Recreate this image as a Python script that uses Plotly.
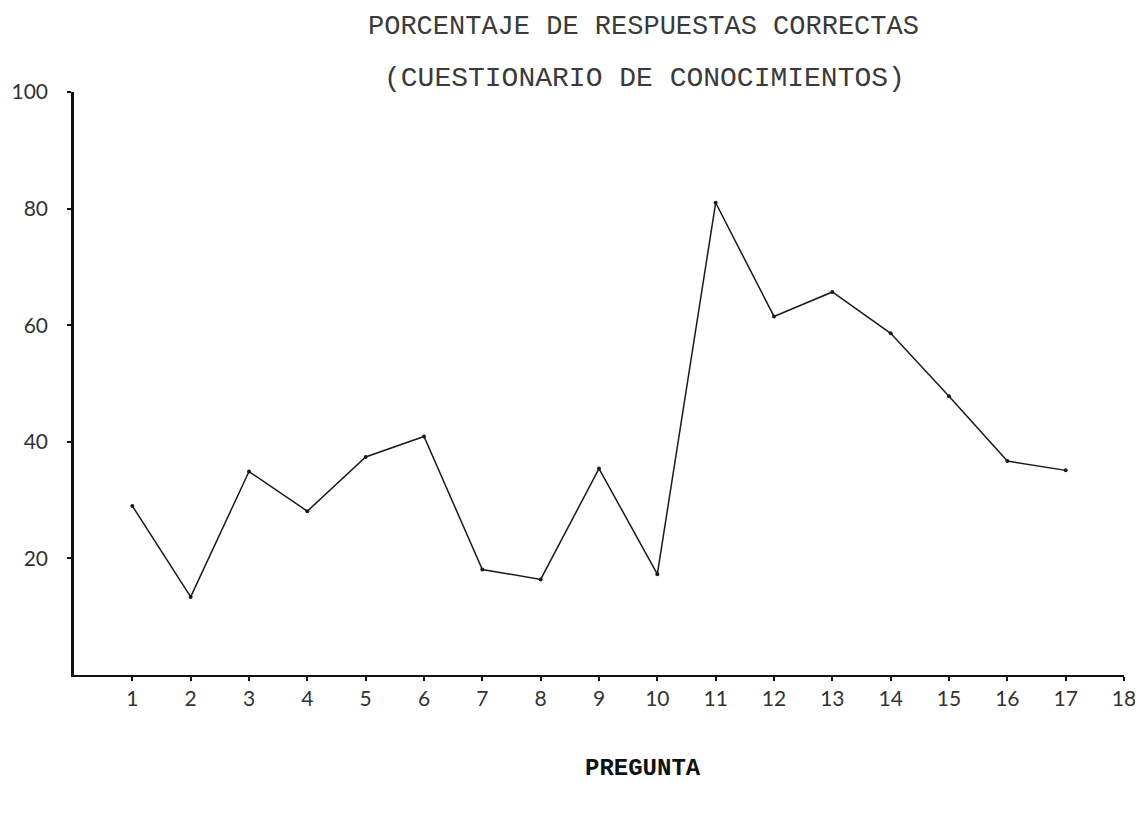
import plotly.graph_objects as go

preguntas = list(range(1, 18))
porcentaje = [29.0, 13.4, 34.9, 28.1, 37.4, 40.9, 18.1, 16.4, 35.4, 17.3,
              81.0, 61.5, 65.7, 58.6, 47.8, 36.7, 35.1]
x_ticks = list(range(1, 19))
y_ticks = [20, 40, 60, 80, 100]

title_1 = "PORCENTAJE DE RESPUESTAS CORRECTAS"
title_2 = "(CUESTIONARIO DE CONOCIMIENTOS)"
x_title = "PREGUNTA"

# browser body margin of 8px: keep the figure inside the window
OFF = 8
W, H = 1143 - 2 * OFF, 815 - 2 * OFF
L, T = 74 - OFF, 92 - OFF
PW, PH = 1050, 583
R = W - L - PW
B = H - T - PH

fig = go.Figure()
fig.add_trace(go.Scatter(
    x=preguntas, y=porcentaje, mode="lines+markers",
    line=dict(color="#1a1a1a", width=1.5),
    marker=dict(color="#1a1a1a", size=4),
    showlegend=False, hoverinfo="x+y",
))

mono = "Liberation Mono"
tickfont = dict(family="Lato", size=21, color="#333333")

def px_to_paper(xp, yp):
    fx, fy = xp - OFF, yp - OFF
    return (fx - L) / PW, (T + PH - fy) / PH

fig.update_layout(
    template="none",
    width=W, height=H,
    margin=dict(l=L, r=R, t=T, b=B, autoexpand=False),
    paper_bgcolor="white", plot_bgcolor="white",
    xaxis=dict(
        range=[0, 18], tickvals=x_ticks, ticktext=[str(v) for v in x_ticks],
        showgrid=False, zeroline=False, showline=True, linecolor="#111111", linewidth=2,
        ticks="outside", ticklen=4, tickwidth=2, tickcolor="#111111",
        tickfont=tickfont, ticklabeloverflow="allow", automargin=False,
    ),
    yaxis=dict(
        range=[0, 100], tickvals=y_ticks, ticktext=[str(v) for v in y_ticks],
        showgrid=False, zeroline=False, showline=True, linecolor="#111111", linewidth=2.5,
        ticks="outside", ticklen=4, tickwidth=2, tickcolor="#111111",
        tickfont=tickfont, ticklabelstandoff=15, ticklabeloverflow="allow", automargin=False,
    ),
)

for text, xp, yp, size, color in [
    (title_1, 643, 27, 27, "#3a3a3a"),
    (title_2, 644, 79, 28, "#3a3a3a"),
    ("<b>" + x_title + "</b>", 643, 768, 24, "#111111"),
]:
    xx, yy = px_to_paper(xp, yp)
    fig.add_annotation(text=text, x=xx, y=yy, xref="paper", yref="paper",
                       showarrow=False, xanchor="center", yanchor="middle",
                       font=dict(family=mono, size=size, color=color))

fig.write_html("out.html")
